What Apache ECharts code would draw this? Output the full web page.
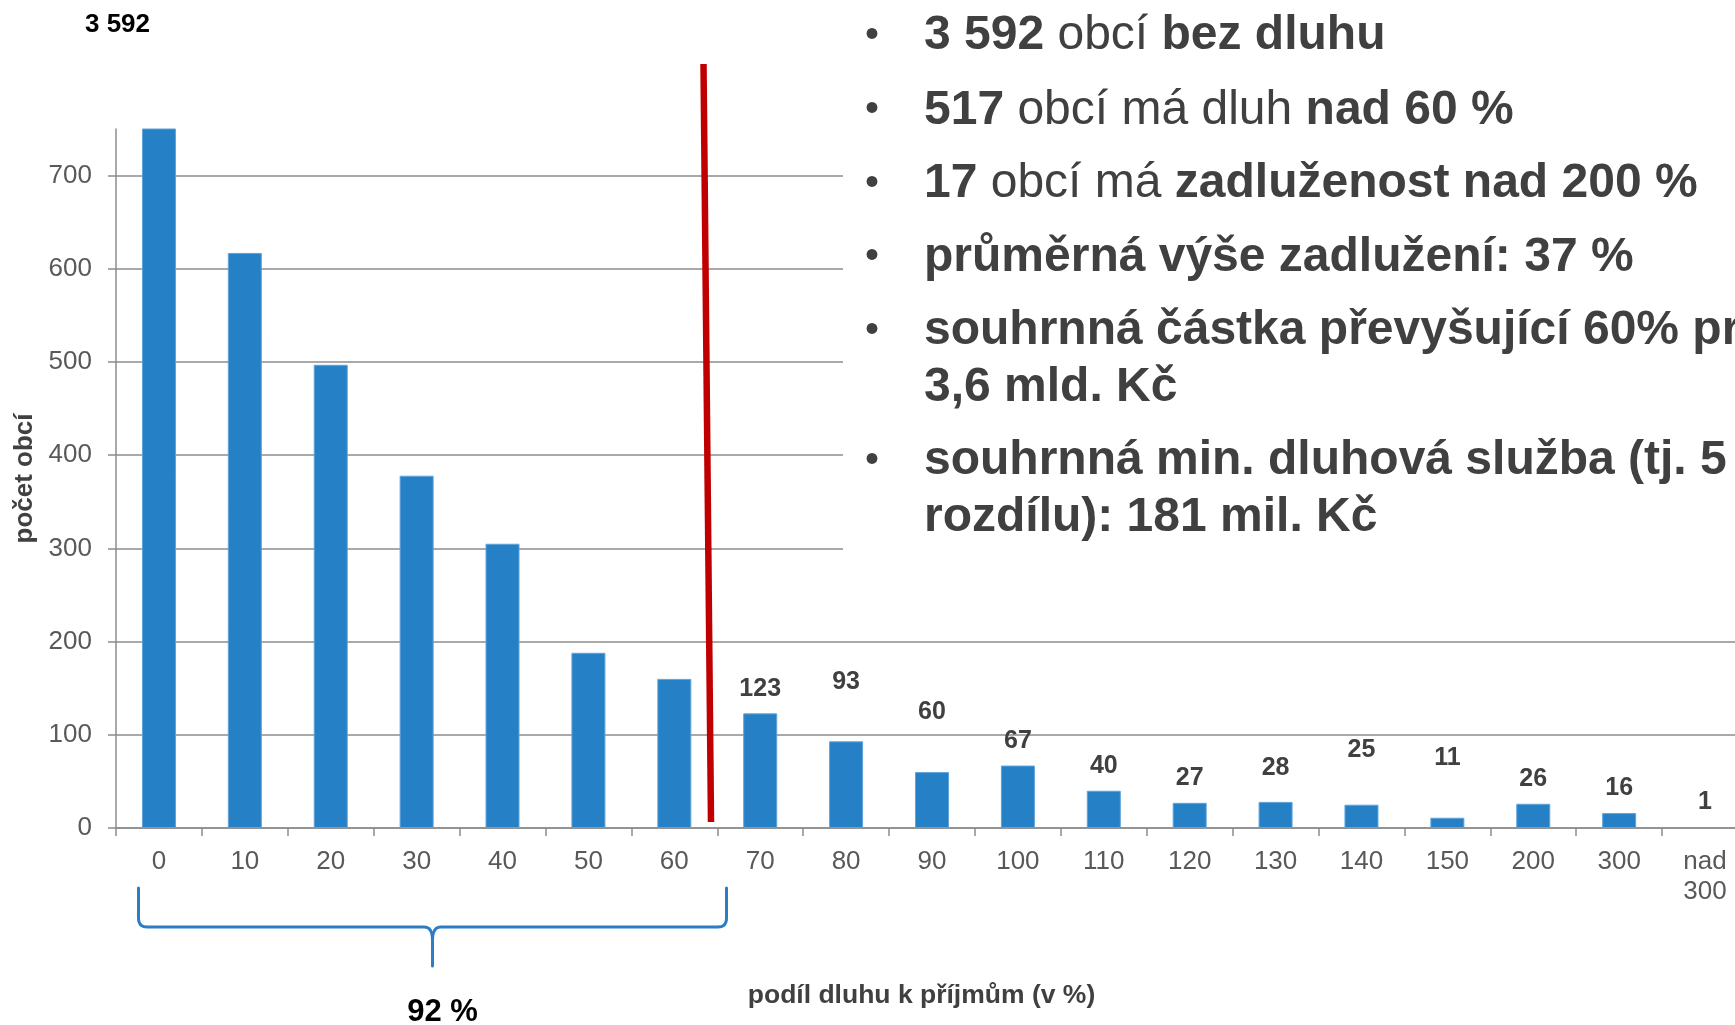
<!DOCTYPE html>
<html>
<head>
<meta charset="utf-8">
<title>Zadluženost obcí</title>
<script src="https://cdn.jsdelivr.net/npm/echarts@6/dist/echarts.min.js"></script>
<style>
  html, body { margin: 0; padding: 0; background: #ffffff; }
  #chart { width: 1735px; height: 1025px; }
</style>
</head>
<body>
<div id="chart"></div>
<script>
// ---- data ----
const categories = ['0', '10', '20', '30', '40', '50', '60', '70', '80', '90', '100', '110', '120', '130', '140', '150', '200', '300', 'nad 300'];
const counts = [3592, 617, 497, 378, 305, 188, 160, 123, 93, 60, 67, 40, 27, 28, 25, 11, 26, 16, 1];
const yTickValues = [0, 100, 200, 300, 400, 500, 600, 700];
const yAxisMax = 750;
const labelledFrom = 7;          // first category with a value label (70)
const bracedCount = 7;           // categories 0 … 60 under the brace
const bulletLines = [
  '{b|3 592}{r| obcí }{b|bez dluhu}',
  '{b|517}{r| obcí má dluh }{b|nad 60 %}',
  '{b|17}{r| obcí má }{b|zadluženost nad 200 %}',
  '{b|průměrná výše zadlužení: 37 %}',
  '{b|souhrnná částka převyšující 60% pr}',
  '{b|3,6 mld. Kč}',
  '{b|souhrnná min. dluhová služba (tj. 5}',
  '{b|rozdílu): 181 mil. Kč}'
];
const bulletStarts = [true, true, true, true, true, false, true, false];

// ---- styling / layout ----
const F = '"Liberation Sans", Arial, Helvetica, sans-serif';
const GRAY_TXT = '#595959';
const DARK_TXT = '#404040';
const AXIS_GRAY = '#8c8c8c';
const BAR_BLUE = '#2680C5';
// extra lift (px) of some value labels, as placed in the original
const labelLift = { '80': 35, '90': 35, '130': 9, '140': 30, '150': 35 };

function fmtThousands(v) {
  return String(v).replace(/\B(?=(\d{3})+(?!\d))/g, ' ');
}

const total = counts.reduce((a, b) => a + b, 0);
const bracedShare = Math.round(counts.slice(0, bracedCount).reduce((a, b) => a + b, 0) / total * 100);

// quadratic curve sampler for the brace outline
function quad(p0, c, p1, n) {
  const pts = [];
  for (let k = 1; k <= n; k++) {
    const t = k / n, u = 1 - t;
    pts.push([u * u * p0[0] + 2 * u * t * c[0] + t * t * p1[0], u * u * p0[1] + 2 * u * t * c[1] + t * t * p1[1]]);
  }
  return pts;
}
const braceLeft = [[138.5, 888], [138.5, 918]]
  .concat(quad([138.5, 918], [138.5, 927], [147, 927], 8))
  .concat([[424, 927]])
  .concat(quad([424, 927], [432.5, 927], [432.5, 940], 8))
  .concat([[432.5, 966]]);
const braceRight = [[432.5, 940]]
  .concat(quad([432.5, 940], [432.5, 927], [441, 927], 8))
  .concat([[718, 927]])
  .concat(quad([718, 927], [726.5, 927], [726.5, 918], 8))
  .concat([[726.5, 888]]);

const chart = echarts.init(document.getElementById('chart'), null, { renderer: 'canvas' });

const barData = counts.map((v, i) => ({
  value: v,
  label: {
    show: i >= labelledFrom,
    offset: [0, -(labelLift[categories[i]] || 0)]
  }
}));

// bullet text block
const lineCenters = [36, 110.5, 184, 257.5, 331, 387.5, 461, 518];
const textEls = [];
bulletLines.forEach((t, i) => {
  if (bulletStarts[i]) {
    textEls.push({
      type: 'text', z: 20,
      style: { x: 872, y: lineCenters[i] - 0.5, text: '•', fill: DARK_TXT,
        font: 'normal 40px ' + F, align: 'center', verticalAlign: 'middle' }
    });
  }
  textEls.push({
    type: 'text', z: 20,
    style: {
      x: 924, y: lineCenters[i], text: t, fill: DARK_TXT,
      fontSize: 48, fontFamily: F, align: 'left', verticalAlign: 'middle',
      rich: {
        b: { fontSize: 48, fontFamily: F, fontWeight: 'bold', fill: DARK_TXT },
        r: { fontSize: 48, fontFamily: F, fontWeight: 'normal', fill: DARK_TXT }
      }
    }
  });
});

const option = {
  backgroundColor: '#ffffff',
  animation: false,
  textStyle: { fontFamily: F },
  grid: {
    left: 116, top: 129, width: 1632, height: 699,
    containLabel: false, outerBoundsMode: 'none'
  },
  xAxis: {
    type: 'category',
    data: categories,
    boundaryGap: true,
    name: 'podíl dluhu k příjmům (v %)',
    nameLocation: 'middle',
    nameGap: 154,
    nameTextStyle: { fontFamily: F, fontSize: 26.5, fontWeight: 'bold', color: DARK_TXT, padding: [0, 21, 0, 0] },
    axisLine: { show: true, lineStyle: { color: AXIS_GRAY, width: 1.5 } },
    axisTick: { show: true, length: 8, alignWithLabel: false, interval: 0, lineStyle: { color: AXIS_GRAY, width: 1.5 } },
    axisLabel: {
      interval: 0, margin: 19, fontFamily: F, fontSize: 26, color: GRAY_TXT, lineHeight: 30,
      formatter: v => v.replace(' ', '\n')
    },
    splitLine: { show: false }
  },
  yAxis: {
    type: 'value',
    min: 0, max: yAxisMax, interval: 100,
    name: 'počet obcí',
    nameLocation: 'middle',
    nameGap: 72,
    nameTextStyle: { fontFamily: F, fontSize: 26, fontWeight: 'bold', color: DARK_TXT },
    axisLine: { show: true, lineStyle: { color: AXIS_GRAY, width: 1.5 } },
    axisTick: { show: true, length: 8, lineStyle: { color: AXIS_GRAY, width: 1.5 } },
    axisLabel: {
      margin: 24, fontFamily: F, fontSize: 26, color: GRAY_TXT,
      showMaxLabel: false,
      formatter: v => (v > 700 ? '' : String(v))
    },
    splitLine: { show: true, showMaxLine: false, lineStyle: { color: AXIS_GRAY, width: 1.5 } }
  },
  series: [{
    type: 'bar',
    data: barData,
    barWidth: 34,
    clip: true,
    itemStyle: { color: BAR_BLUE, borderColor: '#5fa3db', borderWidth: 1 },
    label: {
      position: 'top', distance: 12,
      fontFamily: F, fontSize: 25, fontWeight: 'bold', color: DARK_TXT
    },
    emphasis: { disabled: true }
  }],
  graphic: [
    // white panel behind the bullet text, hiding the upper gridlines
    { type: 'rect', z: 10, shape: { x: 843, y: 0, width: 900, height: 595 }, style: { fill: '#ffffff' } },
    // value of the clipped first bar
    { type: 'text', z: 20, style: { x: 117.5, y: 25, text: fmtThousands(counts[0]), fill: '#000000',
        font: 'bold 26px ' + F, align: 'center', verticalAlign: 'middle' } },
    // red divider line
    { type: 'line', z: 30, shape: { x1: 703.5, y1: 64, x2: 711, y2: 822 },
      style: { stroke: '#C00000', lineWidth: 6.5 } },
    // brace under categories 0–60
    { type: 'polyline', z: 20, shape: { points: braceLeft },
      style: { stroke: '#2C7DC5', lineWidth: 3, fill: null, lineCap: 'round', lineJoin: 'round' } },
    { type: 'polyline', z: 20, shape: { points: braceRight },
      style: { stroke: '#2C7DC5', lineWidth: 3, fill: null, lineCap: 'round', lineJoin: 'round' } },
    { type: 'text', z: 20, style: { x: 442.5, y: 1012, text: bracedShare + ' %', fill: '#000000',
        font: 'bold 31px ' + F, align: 'center', verticalAlign: 'middle' } }
  ].concat(textEls)
};

chart.setOption(option);
</script>
</body>
</html>
